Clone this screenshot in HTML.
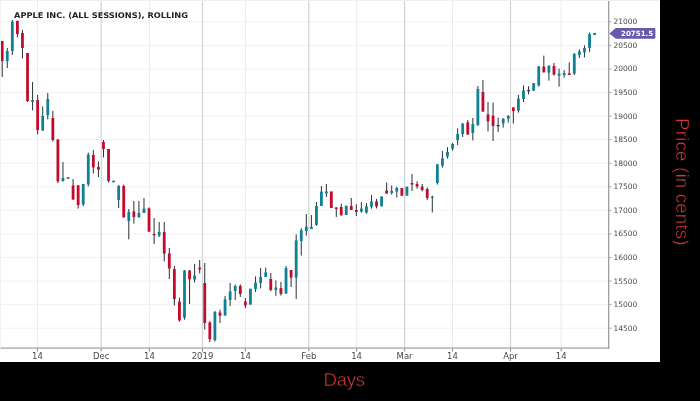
<!DOCTYPE html>
<html lang="en">
<head>
<meta charset="utf-8">
<title>Apple Inc. (All Sessions), Rolling</title>
<style>
html,body{margin:0;padding:0;background:#000;}
body{width:700px;height:401px;overflow:hidden;position:relative;font-family:"Liberation Sans",sans-serif;}
.chart{position:absolute;left:0;top:0;width:660px;height:362px;background:#fff;overflow:hidden;}
.chart svg{display:block;}
.ax{font-family:"DejaVu Sans","Liberation Sans",sans-serif;font-size:7.5px;fill:#4a4a4a;}
.dt{font-family:"DejaVu Sans","Liberation Sans",sans-serif;font-size:8.5px;fill:#4a4a4a;}
.tag{font-family:"DejaVu Sans","Liberation Sans",sans-serif;font-weight:bold;font-size:7.07px;fill:#fff;}
.title{font-family:"DejaVu Sans","Liberation Sans",sans-serif;font-weight:bold;font-size:7.8px;fill:#222;}
.xlabel{position:absolute;left:323.6px;top:368px;height:24px;line-height:24px;font-size:18.7px;color:#d63838;white-space:nowrap;letter-spacing:-0.35px;-webkit-text-stroke:0.45px #000;}
.ylabel{position:absolute;left:670.4px;top:118.3px;height:24px;line-height:24px;font-size:18.7px;color:#d63838;white-space:nowrap;letter-spacing:0.2px;-webkit-text-stroke:0.45px #000;transform-origin:0 0;transform:rotate(90deg) translate(0,-100%);}
</style>
</head>
<body>
<div class="chart">
<svg width="660" height="362" viewBox="0 0 660 362">
<rect x="0" y="21.30" width="608" height="1" fill="#f2f2f2"/>
<rect x="0" y="44.87" width="608" height="1" fill="#f2f2f2"/>
<rect x="0" y="68.44" width="608" height="1" fill="#f2f2f2"/>
<rect x="0" y="92.01" width="608" height="1" fill="#f2f2f2"/>
<rect x="0" y="115.58" width="608" height="1" fill="#f2f2f2"/>
<rect x="0" y="139.15" width="608" height="1" fill="#f2f2f2"/>
<rect x="0" y="162.72" width="608" height="1" fill="#f2f2f2"/>
<rect x="0" y="186.29" width="608" height="1" fill="#f2f2f2"/>
<rect x="0" y="209.86" width="608" height="1" fill="#f2f2f2"/>
<rect x="0" y="233.43" width="608" height="1" fill="#f2f2f2"/>
<rect x="0" y="257.00" width="608" height="1" fill="#f2f2f2"/>
<rect x="0" y="280.57" width="608" height="1" fill="#f2f2f2"/>
<rect x="0" y="304.14" width="608" height="1" fill="#f2f2f2"/>
<rect x="0" y="327.71" width="608" height="1" fill="#f2f2f2"/>
<rect x="37.00" y="0" width="1" height="348" fill="#ebebeb"/>
<rect x="148.90" y="0" width="1" height="348" fill="#ebebeb"/>
<rect x="244.90" y="0" width="1" height="348" fill="#ebebeb"/>
<rect x="356.10" y="0" width="1" height="348" fill="#ebebeb"/>
<rect x="452.00" y="0" width="1" height="348" fill="#ebebeb"/>
<rect x="560.70" y="0" width="1" height="348" fill="#ebebeb"/>
<rect x="100.60" y="0" width="1.2" height="348" fill="#d2d2d2"/>
<rect x="201.90" y="0" width="1.2" height="348" fill="#d2d2d2"/>
<rect x="308.20" y="0" width="1.2" height="348" fill="#d2d2d2"/>
<rect x="404.00" y="0" width="1.2" height="348" fill="#d2d2d2"/>
<rect x="509.90" y="0" width="1.2" height="348" fill="#d2d2d2"/>
<rect x="1.70" y="41.0" width="1" height="36.0" fill="#25333b"/>
<rect x="0.80" y="41.0" width="2.8" height="20.0" fill="#c10c2e"/>
<rect x="6.76" y="48.0" width="1" height="20.0" fill="#25333b"/>
<rect x="5.86" y="51.0" width="2.8" height="10.0" fill="#0f8196"/>
<rect x="11.83" y="20.0" width="1" height="35.0" fill="#25333b"/>
<rect x="10.93" y="21.6" width="2.8" height="29.4" fill="#0f8196"/>
<rect x="16.89" y="20.5" width="1" height="16.9" fill="#25333b"/>
<rect x="15.99" y="21.0" width="2.8" height="13.0" fill="#c10c2e"/>
<rect x="21.95" y="30.0" width="1" height="28.4" fill="#25333b"/>
<rect x="21.05" y="33.0" width="2.8" height="15.0" fill="#c10c2e"/>
<rect x="27.02" y="53.0" width="1" height="49.0" fill="#25333b"/>
<rect x="26.12" y="53.0" width="2.8" height="48.0" fill="#c10c2e"/>
<rect x="32.08" y="82.0" width="1" height="28.4" fill="#25333b"/>
<rect x="31.18" y="100.0" width="2.8" height="2.0" fill="#0f8196"/>
<rect x="37.14" y="95.0" width="1" height="39.4" fill="#25333b"/>
<rect x="36.24" y="100.0" width="2.8" height="30.0" fill="#c10c2e"/>
<rect x="42.21" y="106.4" width="1" height="24.6" fill="#25333b"/>
<rect x="41.31" y="116.0" width="2.8" height="14.4" fill="#0f8196"/>
<rect x="47.27" y="93.0" width="1" height="26.4" fill="#25333b"/>
<rect x="46.37" y="99.0" width="2.8" height="16.0" fill="#0f8196"/>
<rect x="52.34" y="111.0" width="1" height="30.5" fill="#25333b"/>
<rect x="51.44" y="118.0" width="2.8" height="22.0" fill="#c10c2e"/>
<rect x="57.40" y="139.4" width="1" height="43.6" fill="#25333b"/>
<rect x="56.50" y="139.4" width="2.8" height="42.0" fill="#c10c2e"/>
<rect x="62.46" y="162.0" width="1" height="19.6" fill="#25333b"/>
<rect x="61.56" y="178.0" width="2.8" height="3.0" fill="#0f8196"/>
<rect x="66.63" y="177.3" width="2.8" height="1.4" fill="#26343c"/>
<rect x="72.59" y="179.0" width="1" height="21.0" fill="#25333b"/>
<rect x="71.69" y="185.4" width="2.8" height="14.0" fill="#c10c2e"/>
<rect x="77.65" y="185.0" width="1" height="23.6" fill="#25333b"/>
<rect x="76.75" y="185.4" width="2.8" height="19.6" fill="#c10c2e"/>
<rect x="82.72" y="184.0" width="1" height="22.0" fill="#25333b"/>
<rect x="81.82" y="184.0" width="2.8" height="20.4" fill="#0f8196"/>
<rect x="87.78" y="152.6" width="1" height="33.8" fill="#25333b"/>
<rect x="86.88" y="154.6" width="2.8" height="29.8" fill="#0f8196"/>
<rect x="92.84" y="150.0" width="1" height="23.6" fill="#25333b"/>
<rect x="91.94" y="155.0" width="2.8" height="12.4" fill="#c10c2e"/>
<rect x="97.91" y="161.4" width="1" height="15.6" fill="#25333b"/>
<rect x="97.01" y="167.0" width="2.8" height="2.6" fill="#c10c2e"/>
<rect x="102.97" y="140.0" width="1" height="17.4" fill="#25333b"/>
<rect x="102.07" y="142.0" width="2.8" height="7.0" fill="#c10c2e"/>
<rect x="108.03" y="149.0" width="1" height="33.6" fill="#25333b"/>
<rect x="107.13" y="149.0" width="2.8" height="32.0" fill="#c10c2e"/>
<rect x="112.20" y="180.6" width="2.8" height="1.8" fill="#0f8196"/>
<rect x="118.16" y="185.0" width="1" height="23.0" fill="#25333b"/>
<rect x="117.26" y="186.0" width="2.8" height="14.0" fill="#0f8196"/>
<rect x="123.22" y="184.6" width="1" height="32.8" fill="#25333b"/>
<rect x="122.32" y="186.0" width="2.8" height="31.4" fill="#c10c2e"/>
<rect x="128.29" y="209.0" width="1" height="30.4" fill="#25333b"/>
<rect x="127.39" y="212.0" width="2.8" height="9.0" fill="#0f8196"/>
<rect x="133.35" y="201.0" width="1" height="22.6" fill="#25333b"/>
<rect x="132.45" y="211.4" width="2.8" height="5.6" fill="#c10c2e"/>
<rect x="138.41" y="201.0" width="1" height="17.0" fill="#25333b"/>
<rect x="137.51" y="213.0" width="2.8" height="4.0" fill="#0f8196"/>
<rect x="143.48" y="198.0" width="1" height="15.0" fill="#25333b"/>
<rect x="142.58" y="208.6" width="2.8" height="4.4" fill="#0f8196"/>
<rect x="148.54" y="207.4" width="1" height="24.6" fill="#25333b"/>
<rect x="147.64" y="208.4" width="2.8" height="23.2" fill="#c10c2e"/>
<rect x="153.60" y="218.0" width="1" height="26.0" fill="#25333b"/>
<rect x="152.70" y="234.0" width="2.8" height="1.4" fill="#c10c2e"/>
<rect x="158.67" y="222.0" width="1" height="15.0" fill="#25333b"/>
<rect x="157.77" y="232.0" width="2.8" height="3.6" fill="#0f8196"/>
<rect x="163.73" y="222.0" width="1" height="39.4" fill="#25333b"/>
<rect x="162.83" y="232.0" width="2.8" height="21.6" fill="#c10c2e"/>
<rect x="168.80" y="248.0" width="1" height="31.0" fill="#25333b"/>
<rect x="167.90" y="253.4" width="2.8" height="15.1" fill="#c10c2e"/>
<rect x="173.86" y="266.0" width="1" height="39.6" fill="#25333b"/>
<rect x="172.96" y="269.0" width="2.8" height="30.0" fill="#c10c2e"/>
<rect x="178.92" y="297.6" width="1" height="24.0" fill="#25333b"/>
<rect x="178.02" y="301.6" width="2.8" height="18.8" fill="#c10c2e"/>
<rect x="183.99" y="270.0" width="1" height="49.6" fill="#25333b"/>
<rect x="183.09" y="270.6" width="2.8" height="47.0" fill="#0f8196"/>
<rect x="189.05" y="270.0" width="1" height="34.0" fill="#25333b"/>
<rect x="188.15" y="270.6" width="2.8" height="8.8" fill="#c10c2e"/>
<rect x="194.11" y="264.0" width="1" height="18.6" fill="#25333b"/>
<rect x="193.21" y="275.6" width="2.8" height="4.0" fill="#0f8196"/>
<rect x="199.18" y="260.0" width="1" height="13.4" fill="#25333b"/>
<rect x="198.28" y="267.6" width="2.8" height="1.8" fill="#c10c2e"/>
<rect x="204.24" y="263.0" width="1" height="66.6" fill="#25333b"/>
<rect x="203.34" y="283.0" width="2.8" height="40.0" fill="#c10c2e"/>
<rect x="209.32" y="321.2" width="1" height="20.8" fill="#25333b"/>
<rect x="208.42" y="322.4" width="2.8" height="16.8" fill="#c10c2e"/>
<rect x="214.40" y="311.0" width="1" height="30.4" fill="#25333b"/>
<rect x="213.50" y="312.0" width="2.8" height="28.2" fill="#0f8196"/>
<rect x="219.48" y="309.7" width="1" height="13.3" fill="#25333b"/>
<rect x="218.58" y="312.5" width="2.8" height="3.3" fill="#c10c2e"/>
<rect x="224.56" y="296.0" width="1" height="19.6" fill="#25333b"/>
<rect x="223.66" y="299.4" width="2.8" height="16.2" fill="#0f8196"/>
<rect x="229.64" y="283.0" width="1" height="23.0" fill="#25333b"/>
<rect x="228.74" y="291.4" width="2.8" height="8.6" fill="#0f8196"/>
<rect x="234.72" y="284.6" width="1" height="15.4" fill="#25333b"/>
<rect x="233.82" y="286.0" width="2.8" height="5.0" fill="#0f8196"/>
<rect x="239.80" y="284.4" width="1" height="12.6" fill="#25333b"/>
<rect x="238.90" y="286.0" width="2.8" height="8.0" fill="#c10c2e"/>
<rect x="244.88" y="298.0" width="1" height="10.2" fill="#25333b"/>
<rect x="243.98" y="301.5" width="2.8" height="3.9" fill="#c10c2e"/>
<rect x="249.06" y="288.6" width="2.8" height="16.1" fill="#0f8196"/>
<rect x="255.04" y="276.4" width="1" height="15.6" fill="#25333b"/>
<rect x="254.14" y="282.6" width="2.8" height="6.4" fill="#0f8196"/>
<rect x="260.12" y="268.0" width="1" height="20.4" fill="#25333b"/>
<rect x="259.22" y="277.0" width="2.8" height="6.0" fill="#0f8196"/>
<rect x="265.20" y="267.6" width="1" height="9.4" fill="#25333b"/>
<rect x="264.30" y="272.4" width="2.8" height="4.6" fill="#0f8196"/>
<rect x="270.28" y="273.0" width="1" height="18.4" fill="#25333b"/>
<rect x="269.38" y="279.0" width="2.8" height="11.0" fill="#c10c2e"/>
<rect x="275.36" y="280.4" width="1" height="15.4" fill="#25333b"/>
<rect x="274.46" y="287.6" width="2.8" height="2.4" fill="#0f8196"/>
<rect x="280.44" y="282.0" width="1" height="13.6" fill="#25333b"/>
<rect x="279.54" y="288.0" width="2.8" height="6.0" fill="#c10c2e"/>
<rect x="285.52" y="266.0" width="1" height="27.6" fill="#25333b"/>
<rect x="284.62" y="268.0" width="2.8" height="25.6" fill="#0f8196"/>
<rect x="290.60" y="270.0" width="1" height="17.0" fill="#25333b"/>
<rect x="289.70" y="270.0" width="2.8" height="7.6" fill="#c10c2e"/>
<rect x="295.68" y="234.4" width="1" height="64.6" fill="#25333b"/>
<rect x="294.78" y="240.4" width="2.8" height="37.2" fill="#0f8196"/>
<rect x="300.75" y="228.2" width="1" height="27.4" fill="#25333b"/>
<rect x="299.85" y="230.2" width="2.8" height="10.8" fill="#0f8196"/>
<rect x="305.81" y="214.0" width="1" height="21.6" fill="#25333b"/>
<rect x="304.91" y="226.6" width="2.8" height="4.4" fill="#0f8196"/>
<rect x="310.87" y="215.0" width="1" height="14.0" fill="#25333b"/>
<rect x="309.97" y="227.0" width="2.8" height="2.0" fill="#0f8196"/>
<rect x="315.94" y="202.0" width="1" height="23.8" fill="#25333b"/>
<rect x="315.04" y="206.0" width="2.8" height="18.8" fill="#0f8196"/>
<rect x="320.90" y="186.0" width="1" height="20.0" fill="#25333b"/>
<rect x="320.00" y="191.6" width="2.8" height="14.4" fill="#0f8196"/>
<rect x="325.86" y="184.0" width="1" height="13.0" fill="#25333b"/>
<rect x="324.96" y="191.4" width="2.8" height="2.0" fill="#0f8196"/>
<rect x="329.93" y="191.4" width="2.8" height="16.6" fill="#c10c2e"/>
<rect x="335.79" y="207.4" width="1" height="9.6" fill="#25333b"/>
<rect x="334.89" y="207.4" width="2.8" height="1.6" fill="#c10c2e"/>
<rect x="340.75" y="203.6" width="1" height="11.8" fill="#25333b"/>
<rect x="339.85" y="207.0" width="2.8" height="8.4" fill="#c10c2e"/>
<rect x="344.82" y="205.6" width="2.8" height="9.4" fill="#0f8196"/>
<rect x="350.77" y="198.0" width="1" height="12.0" fill="#25333b"/>
<rect x="349.87" y="206.0" width="2.8" height="4.0" fill="#c10c2e"/>
<rect x="355.82" y="204.4" width="1" height="11.6" fill="#25333b"/>
<rect x="354.92" y="210.0" width="2.8" height="2.0" fill="#c10c2e"/>
<rect x="360.87" y="202.0" width="1" height="10.6" fill="#25333b"/>
<rect x="359.97" y="208.6" width="2.8" height="3.0" fill="#0f8196"/>
<rect x="365.92" y="203.0" width="1" height="10.6" fill="#25333b"/>
<rect x="365.02" y="206.4" width="2.8" height="6.2" fill="#0f8196"/>
<rect x="370.97" y="195.0" width="1" height="13.6" fill="#25333b"/>
<rect x="370.07" y="201.4" width="2.8" height="5.2" fill="#0f8196"/>
<rect x="376.02" y="199.0" width="1" height="9.4" fill="#25333b"/>
<rect x="375.12" y="201.4" width="2.8" height="5.0" fill="#c10c2e"/>
<rect x="380.18" y="196.4" width="2.8" height="10.0" fill="#0f8196"/>
<rect x="386.13" y="182.6" width="1" height="11.0" fill="#25333b"/>
<rect x="385.23" y="190.6" width="2.8" height="3.0" fill="#c10c2e"/>
<rect x="391.20" y="185.4" width="1" height="9.2" fill="#25333b"/>
<rect x="390.30" y="191.0" width="2.8" height="2.0" fill="#0f8196"/>
<rect x="396.28" y="186.6" width="1" height="11.0" fill="#25333b"/>
<rect x="395.38" y="188.0" width="2.8" height="3.6" fill="#0f8196"/>
<rect x="400.45" y="188.0" width="2.8" height="7.8" fill="#c10c2e"/>
<rect x="405.53" y="186.6" width="2.8" height="9.2" fill="#0f8196"/>
<rect x="411.51" y="174.0" width="1" height="17.0" fill="#25333b"/>
<rect x="410.61" y="183.0" width="2.8" height="1.5" fill="#c10c2e"/>
<rect x="416.58" y="181.2" width="1" height="7.4" fill="#25333b"/>
<rect x="415.68" y="184.0" width="2.8" height="2.6" fill="#c10c2e"/>
<rect x="421.66" y="184.0" width="1" height="7.4" fill="#25333b"/>
<rect x="420.76" y="186.6" width="2.8" height="3.4" fill="#c10c2e"/>
<rect x="426.73" y="187.6" width="1" height="12.4" fill="#25333b"/>
<rect x="425.83" y="189.0" width="2.8" height="9.0" fill="#c10c2e"/>
<rect x="431.80" y="195.6" width="1" height="16.8" fill="#25333b"/>
<rect x="430.90" y="196.6" width="2.8" height="1.4" fill="#0f8196"/>
<rect x="436.86" y="164.0" width="1" height="20.6" fill="#25333b"/>
<rect x="435.96" y="164.4" width="2.8" height="18.6" fill="#0f8196"/>
<rect x="441.92" y="151.0" width="1" height="16.6" fill="#25333b"/>
<rect x="441.02" y="158.4" width="2.8" height="7.2" fill="#0f8196"/>
<rect x="446.99" y="147.2" width="1" height="11.4" fill="#25333b"/>
<rect x="446.09" y="152.0" width="2.8" height="4.6" fill="#0f8196"/>
<rect x="452.05" y="143.0" width="1" height="7.6" fill="#25333b"/>
<rect x="451.15" y="144.0" width="2.8" height="4.7" fill="#0f8196"/>
<rect x="457.12" y="128.4" width="1" height="16.6" fill="#25333b"/>
<rect x="456.22" y="134.0" width="2.8" height="6.0" fill="#0f8196"/>
<rect x="462.18" y="123.0" width="1" height="14.0" fill="#25333b"/>
<rect x="461.28" y="123.6" width="2.8" height="10.4" fill="#0f8196"/>
<rect x="467.24" y="120.0" width="1" height="14.6" fill="#25333b"/>
<rect x="466.34" y="122.4" width="2.8" height="12.2" fill="#c10c2e"/>
<rect x="472.31" y="118.0" width="1" height="22.4" fill="#25333b"/>
<rect x="471.41" y="124.0" width="2.8" height="9.0" fill="#0f8196"/>
<rect x="477.37" y="86.0" width="1" height="39.4" fill="#25333b"/>
<rect x="476.47" y="89.0" width="2.8" height="36.4" fill="#0f8196"/>
<rect x="482.43" y="80.0" width="1" height="31.6" fill="#25333b"/>
<rect x="481.53" y="92.0" width="2.8" height="19.6" fill="#c10c2e"/>
<rect x="487.50" y="102.0" width="1" height="29.4" fill="#25333b"/>
<rect x="486.60" y="114.4" width="2.8" height="7.0" fill="#c10c2e"/>
<rect x="492.56" y="102.6" width="1" height="38.4" fill="#25333b"/>
<rect x="491.66" y="115.6" width="2.8" height="10.4" fill="#c10c2e"/>
<rect x="497.62" y="117.6" width="1" height="14.4" fill="#25333b"/>
<rect x="496.72" y="125.0" width="2.8" height="1.4" fill="#26343c"/>
<rect x="502.69" y="118.0" width="1" height="9.6" fill="#25333b"/>
<rect x="501.79" y="119.0" width="2.8" height="4.4" fill="#0f8196"/>
<rect x="507.75" y="115.0" width="1" height="7.6" fill="#25333b"/>
<rect x="506.85" y="116.0" width="2.8" height="2.6" fill="#0f8196"/>
<rect x="512.83" y="107.4" width="1" height="16.2" fill="#25333b"/>
<rect x="511.93" y="107.4" width="2.8" height="3.6" fill="#c10c2e"/>
<rect x="517.91" y="95.0" width="1" height="17.6" fill="#25333b"/>
<rect x="517.01" y="98.6" width="2.8" height="12.0" fill="#0f8196"/>
<rect x="522.99" y="85.5" width="1" height="16.5" fill="#25333b"/>
<rect x="522.09" y="90.4" width="2.8" height="8.6" fill="#0f8196"/>
<rect x="528.07" y="86.2" width="1" height="8.2" fill="#25333b"/>
<rect x="527.17" y="90.0" width="2.8" height="1.2" fill="#26343c"/>
<rect x="533.16" y="83.0" width="1" height="8.0" fill="#25333b"/>
<rect x="532.26" y="83.0" width="2.8" height="7.5" fill="#0f8196"/>
<rect x="538.24" y="66.0" width="1" height="20.6" fill="#25333b"/>
<rect x="537.34" y="66.4" width="2.8" height="19.0" fill="#0f8196"/>
<rect x="543.32" y="55.6" width="1" height="16.8" fill="#25333b"/>
<rect x="542.42" y="66.6" width="2.8" height="5.8" fill="#c10c2e"/>
<rect x="548.40" y="65.6" width="1" height="15.0" fill="#25333b"/>
<rect x="547.50" y="65.6" width="2.8" height="7.0" fill="#0f8196"/>
<rect x="553.48" y="63.0" width="1" height="12.6" fill="#25333b"/>
<rect x="552.58" y="66.0" width="2.8" height="8.6" fill="#c10c2e"/>
<rect x="558.56" y="68.6" width="1" height="18.0" fill="#25333b"/>
<rect x="557.66" y="73.6" width="2.8" height="2.0" fill="#0f8196"/>
<rect x="563.64" y="70.0" width="1" height="7.6" fill="#25333b"/>
<rect x="562.74" y="73.0" width="2.8" height="2.0" fill="#0f8196"/>
<rect x="568.72" y="62.4" width="1" height="12.6" fill="#25333b"/>
<rect x="567.82" y="73.4" width="2.8" height="1.6" fill="#c10c2e"/>
<rect x="573.80" y="53.0" width="1" height="22.0" fill="#25333b"/>
<rect x="572.90" y="54.0" width="2.8" height="19.6" fill="#0f8196"/>
<rect x="578.89" y="49.4" width="1" height="8.6" fill="#25333b"/>
<rect x="577.99" y="51.4" width="2.8" height="3.6" fill="#0f8196"/>
<rect x="583.97" y="45.4" width="1" height="12.0" fill="#25333b"/>
<rect x="583.07" y="48.0" width="2.8" height="4.4" fill="#0f8196"/>
<rect x="589.05" y="32.6" width="1" height="19.4" fill="#25333b"/>
<rect x="588.15" y="34.0" width="2.8" height="14.0" fill="#0f8196"/>
<rect x="593.23" y="33.0" width="2.8" height="2.0" fill="#0f8196"/>
<rect x="0" y="347.5" width="609.3" height="1.1" fill="#969696"/>
<rect x="608.1" y="0" width="1.2" height="348.6" fill="#969696"/>
<rect x="0" y="0" width="660" height="1" fill="#f0f0f0"/>
<rect x="0" y="0" width="1" height="348" fill="#f3f3f3"/>
<rect x="609.3" y="21.30" width="2" height="1" fill="#999"/>
<text x="613.4" y="24.30" class="ax">21000</text>
<rect x="609.3" y="44.87" width="2" height="1" fill="#999"/>
<text x="613.4" y="47.87" class="ax">20500</text>
<rect x="609.3" y="68.44" width="2" height="1" fill="#999"/>
<text x="613.4" y="71.44" class="ax">20000</text>
<rect x="609.3" y="92.01" width="2" height="1" fill="#999"/>
<text x="613.4" y="95.01" class="ax">19500</text>
<rect x="609.3" y="115.58" width="2" height="1" fill="#999"/>
<text x="613.4" y="118.58" class="ax">19000</text>
<rect x="609.3" y="139.15" width="2" height="1" fill="#999"/>
<text x="613.4" y="142.15" class="ax">18500</text>
<rect x="609.3" y="162.72" width="2" height="1" fill="#999"/>
<text x="613.4" y="165.72" class="ax">18000</text>
<rect x="609.3" y="186.29" width="2" height="1" fill="#999"/>
<text x="613.4" y="189.29" class="ax">17500</text>
<rect x="609.3" y="209.86" width="2" height="1" fill="#999"/>
<text x="613.4" y="212.86" class="ax">17000</text>
<rect x="609.3" y="233.43" width="2" height="1" fill="#999"/>
<text x="613.4" y="236.43" class="ax">16500</text>
<rect x="609.3" y="257.00" width="2" height="1" fill="#999"/>
<text x="613.4" y="260.00" class="ax">16000</text>
<rect x="609.3" y="280.57" width="2" height="1" fill="#999"/>
<text x="613.4" y="283.57" class="ax">15500</text>
<rect x="609.3" y="304.14" width="2" height="1" fill="#999"/>
<text x="613.4" y="307.14" class="ax">15000</text>
<rect x="609.3" y="327.71" width="2" height="1" fill="#999"/>
<text x="613.4" y="330.71" class="ax">14500</text>
<rect x="37.00" y="348.6" width="1" height="2.8" fill="#888"/>
<text x="37.5" y="359.4" class="dt" text-anchor="middle">14</text>
<rect x="100.70" y="348.6" width="1" height="2.8" fill="#888"/>
<text x="101.2" y="359.4" class="dt" text-anchor="middle">Dec</text>
<rect x="148.90" y="348.6" width="1" height="2.8" fill="#888"/>
<text x="149.4" y="359.4" class="dt" text-anchor="middle">14</text>
<rect x="202.00" y="348.6" width="1" height="2.8" fill="#888"/>
<text x="202.5" y="359.4" class="dt" text-anchor="middle">2019</text>
<rect x="244.90" y="348.6" width="1" height="2.8" fill="#888"/>
<text x="245.4" y="359.4" class="dt" text-anchor="middle">14</text>
<rect x="308.30" y="348.6" width="1" height="2.8" fill="#888"/>
<text x="308.8" y="359.4" class="dt" text-anchor="middle">Feb</text>
<rect x="356.10" y="348.6" width="1" height="2.8" fill="#888"/>
<text x="356.6" y="359.4" class="dt" text-anchor="middle">14</text>
<rect x="404.10" y="348.6" width="1" height="2.8" fill="#888"/>
<text x="404.6" y="359.4" class="dt" text-anchor="middle">Mar</text>
<rect x="452.00" y="348.6" width="1" height="2.8" fill="#888"/>
<text x="452.5" y="359.4" class="dt" text-anchor="middle">14</text>
<rect x="510.00" y="348.6" width="1" height="2.8" fill="#888"/>
<text x="510.5" y="359.4" class="dt" text-anchor="middle">Apr</text>
<rect x="560.70" y="348.6" width="1" height="2.8" fill="#888"/>
<text x="561.2" y="359.4" class="dt" text-anchor="middle">14</text>
<path d="M609.4 33.4 L615.8 28 H654 Q655.4 28 655.4 29.4 V37.4 Q655.4 38.8 654 38.8 H615.8 Z" fill="#6859ad"/>
<text x="621" y="36.1" class="tag">20751.5</text>
<text x="14" y="17.9" class="title" textLength="174" lengthAdjust="spacingAndGlyphs">APPLE INC. (ALL SESSIONS), ROLLING</text>
</svg>
</div>
<div class="xlabel">Days</div>
<div class="ylabel">Price (in cents)</div>
</body>
</html>
